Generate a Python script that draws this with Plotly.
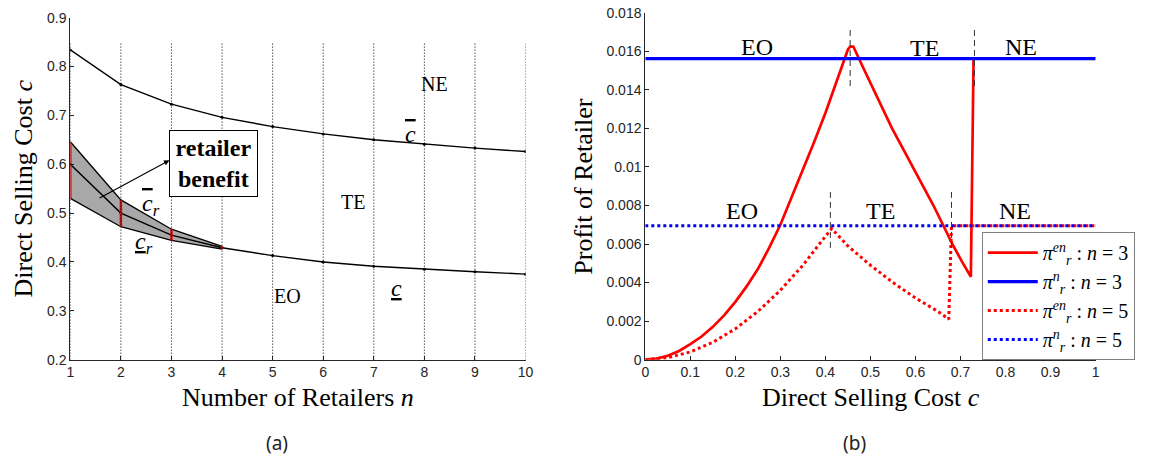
import plotly.graph_objects as go

# ---------------- Panel (a) data ----------------
n_vals = [1, 2, 3, 4, 5, 6, 7, 8, 9, 10]
c_bar = [0.834, 0.763, 0.723, 0.696, 0.677, 0.662, 0.650, 0.641, 0.633, 0.626]       # upper threshold
c_under = [0.600, 0.500, 0.455, 0.429, 0.413, 0.400, 0.391, 0.385, 0.380, 0.375]     # lower threshold
n_band = [1, 2, 3, 4]
cr_bar = [0.646, 0.527, 0.467, 0.432]     # retailer upper bound
cr_under = [0.530, 0.472, 0.444, 0.426]   # retailer lower bound
grid_bottom = 0.2
grid_top = 0.85

# ---------------- Panel (b) data ----------------
c_en3 = [0, 0.025, 0.05, 0.075, 0.1, 0.125, 0.15, 0.175, 0.2, 0.225, 0.25, 0.275, 0.3,
         0.325, 0.35, 0.375, 0.4, 0.425, 0.45, 0.455, 0.462, 0.485, 0.508, 0.528, 0.548,
         0.571, 0.594, 0.617, 0.640, 0.661, 0.682, 0.703, 0.723, 0.729, 1.0]
pi_en3 = [0, 0.00005, 0.0002, 0.00045, 0.0008, 0.0012, 0.0017, 0.0023, 0.003, 0.0038,
          0.0047, 0.0058, 0.007, 0.0084, 0.0098, 0.0113, 0.0128, 0.0145, 0.0161,
          0.01625, 0.01625, 0.0151, 0.0140, 0.0130, 0.0120, 0.0110, 0.0100, 0.0090,
          0.0080, 0.0070, 0.0060, 0.0051, 0.0043, 0.015625, 0.015625]
c_en5 = [0, 0.05, 0.1, 0.15, 0.2, 0.25, 0.3, 0.35, 0.4, 0.414, 0.45, 0.5, 0.55, 0.6,
         0.65, 0.674, 0.680, 1.0]
pi_en5 = [0, 0.0001, 0.0004, 0.0009, 0.0016, 0.0025, 0.0036, 0.0049, 0.0064, 0.0068,
          0.0059, 0.0049, 0.0040, 0.0032, 0.0025, 0.0021, 0.006944, 0.006944]
c_flat = [0, 1.0]
pi_n3 = [0.015625, 0.015625]
pi_n5 = [0.006944, 0.006944]
mark3_c = [0.455, 0.731]
mark3_lo, mark3_hi = 0.0142, 0.0173
mark5_c = [0.411, 0.680]
mark5_lo, mark5_hi = 0.0058, 0.0087

yticks_b = [0, 0.002, 0.004, 0.006, 0.008, 0.01, 0.012, 0.014, 0.016, 0.018]
ytext_b = ["0", "0.002", "0.004", "0.006", "0.008", "0.01", "0.012", "0.014", "0.016", "0.018"]
xticks_b = [0, 0.1, 0.2, 0.3, 0.4, 0.5, 0.6, 0.7, 0.8, 0.9, 1]
xtext_b = ["0", "0.1", "0.2", "0.3", "0.4", "0.5", "0.6", "0.7", "0.8", "0.9", "1"]
yticks_a = [0.2, 0.3, 0.4, 0.5, 0.6, 0.7, 0.8, 0.9]

SERIF = "Liberation Serif"
SANS = "Liberation Sans"
AXC = "#262626"

fig = go.Figure()

# ---- panel (a) ----
fig.add_trace(go.Scatter(x=[n_vals[0], n_vals[0]], y=[grid_bottom, grid_top], mode="lines",
                         line=dict(color="black", width=1, dash="1px,2px"), showlegend=False,
                         xaxis="x", yaxis="y", hoverinfo="skip"))
fig.add_trace(go.Scatter(x=n_band + n_band[::-1], y=cr_bar + cr_under[::-1], fill="toself",
                         fillcolor="#a8a8a8", line=dict(width=0), mode="lines",
                         showlegend=False, xaxis="x", yaxis="y", hoverinfo="skip"))
fig.add_trace(go.Scatter(x=n_band, y=cr_bar, mode="lines", line=dict(color="black", width=1.3),
                         showlegend=False, xaxis="x", yaxis="y"))
fig.add_trace(go.Scatter(x=n_band, y=cr_under, mode="lines", line=dict(color="black", width=1.3),
                         showlegend=False, xaxis="x", yaxis="y"))
fig.add_trace(go.Scatter(x=n_vals, y=c_bar, mode="lines+markers",
                         line=dict(color="black", width=1.4), marker=dict(size=3, color="black"),
                         showlegend=False, xaxis="x", yaxis="y"))
fig.add_trace(go.Scatter(x=n_vals, y=c_under, mode="lines+markers",
                         line=dict(color="black", width=1.4), marker=dict(size=3, color="black"),
                         showlegend=False, xaxis="x", yaxis="y"))
rx, ry = [], []
for n, lo, hi in zip(n_band, cr_under, cr_bar):
    rx += [n, n, None]
    ry += [lo, hi, None]
fig.add_trace(go.Scatter(x=rx, y=ry, mode="lines", line=dict(color="#d01010", width=2.5),
                         showlegend=False, xaxis="x", yaxis="y", hoverinfo="skip"))
gx, gy = [], []
for n in n_vals[1:]:
    gx += [n, n, None]
    gy += [grid_bottom, grid_top, None]
fig.add_trace(go.Scatter(x=gx, y=gy, mode="lines", line=dict(color="black", width=1, dash="1px,2px"),
                         showlegend=False, xaxis="x", yaxis="y", hoverinfo="skip"))

# ---- panel (b) ----
fig.add_trace(go.Scatter(x=c_en3, y=pi_en3, mode="lines", line=dict(color="#ff0000", width=2.7),
                         name="<i>π</i><sup><i>en</i></sup><sub><i>r</i></sub> : <i>n</i> = 3",
                         xaxis="x2", yaxis="y2"))
fig.add_trace(go.Scatter(x=c_flat, y=pi_n3, mode="lines", line=dict(color="#0000ff", width=3.3),
                         name="<i>π</i><sup><i>n</i></sup><sub><i>r</i></sub> : <i>n</i> = 3",
                         xaxis="x2", yaxis="y2"))
fig.add_trace(go.Scatter(x=c_en5, y=pi_en5, mode="lines",
                         line=dict(color="#ff0000", width=3, dash="dot"),
                         name="<i>π</i><sup><i>en</i></sup><sub><i>r</i></sub> : <i>n</i> = 5",
                         xaxis="x2", yaxis="y2"))
fig.add_trace(go.Scatter(x=c_flat, y=pi_n5, mode="lines",
                         line=dict(color="#0000ff", width=3, dash="dot"),
                         name="<i>π</i><sup><i>n</i></sup><sub><i>r</i></sub> : <i>n</i> = 5",
                         xaxis="x2", yaxis="y2"))
dx, dy = [], []
for c in mark3_c:
    dx += [c, c, None]
    dy += [mark3_lo, mark3_hi, None]
for c in mark5_c:
    dx += [c, c, None]
    dy += [mark5_lo, mark5_hi, None]
fig.add_trace(go.Scatter(x=dx, y=dy, mode="lines", line=dict(color="#333333", width=1, dash="6px,4px"),
                         showlegend=False, xaxis="x2", yaxis="y2", hoverinfo="skip"))

axis_common = dict(showline=True, linecolor=AXC, linewidth=1, ticks="inside", ticklen=4,
                   tickcolor=AXC, tickfont=dict(family=SANS, size=14, color=AXC),
                   showgrid=False, zeroline=False, mirror=False)

fig.update_layout(
    width=1159, height=471, margin=dict(l=0, r=0, t=0, b=0),
    paper_bgcolor="white", plot_bgcolor="white",
    xaxis=dict(domain=[67 / 1159, 527 / 1159], range=[1, 10], tickvals=n_vals,
               anchor="y", **axis_common),
    yaxis=dict(domain=[(471 - 364) / 471, (471 - 10) / 471], range=[0.2, 0.9],
               tickvals=yticks_a, ticktext=[f"{v:.1f}" for v in yticks_a],
               anchor="x", **axis_common),
    xaxis2=dict(domain=[648 / 1159, 1103 / 1159], range=[0, 1], tickvals=xticks_b,
                ticktext=xtext_b, anchor="y2", **axis_common),
    yaxis2=dict(domain=[(471 - 364) / 471, (471 - 5) / 471], range=[0, 0.018],
                tickvals=yticks_b, ticktext=ytext_b, anchor="x2", **axis_common),
    legend=dict(x=988 / 1159, y=(471 - 232) / 471, xanchor="left", yanchor="top",
                bgcolor="white", bordercolor="#808080", borderwidth=1, itemwidth=50,
                font=dict(family=SERIF, size=20, color="black")),
    showlegend=True,
)

ann = []
def t(x, y, text, size, xref="x", yref="y", **kw):
    d = dict(x=x, y=y, xref=xref, yref=yref, text=text, showarrow=False,
             xanchor="center", yanchor="middle",
             font=dict(family=SERIF, size=size, color="black"))
    d.update(kw)
    ann.append(d)

# panel (a) labels
t(8.2, 0.765, "NE", 20)
t(6.58, 0.523, "TE", 20)
t(5.3, 0.331, "EO", 20)
t(7.73, 0.662, "<i><span style='text-decoration:overline'>c</span></i>", 24)
t(7.44, 0.346, "<i><span style='text-decoration:underline'>c</span></i>", 24)
t(2.6, 0.517, "<i><span style='text-decoration:overline'>c</span><sub>r</sub></i>", 24)
t(2.45, 0.439, "<i><span style='text-decoration:underline'>c</span><sub>r</sub></i>", 24)
t(3.83, 0.6014, "<b>retailer<br>benefit</b>", 24, bordercolor="black", borderwidth=1,
  bgcolor="white", borderpad=0, width=87, height=65)
ann.append(dict(x=2.96, y=0.608, ax=1.55, ay=0.529, xref="x", yref="y", axref="x", ayref="y",
                text="", showarrow=True, arrowhead=2, arrowsize=1, arrowwidth=1.1,
                arrowcolor="black"))

# panel (b) labels
t(0.248, 0.01625, "EO", 24, xref="x2", yref="y2")
t(0.619, 0.0162, "TE", 24, xref="x2", yref="y2")
t(0.834, 0.01625, "NE", 24, xref="x2", yref="y2")
t(0.215, 0.0077, "EO", 24, xref="x2", yref="y2")
t(0.522, 0.0077, "TE", 24, xref="x2", yref="y2")
t(0.821, 0.0077, "NE", 24, xref="x2", yref="y2")

# axis titles
t(20 / 1159, (471 - 187) / 471, "Direct Selling Cost <i>c</i>", 26, xref="paper", yref="paper",
  textangle=-90)
t(297 / 1159, (471 - 403) / 471, "Number of Retailers <i>n</i>", 26, xref="paper", yref="paper")
t(586 / 1159, (471 - 184) / 471, "Profit of Retailer", 26, xref="paper", yref="paper",
  textangle=-90)
t(876 / 1159, (471 - 403) / 471, "Direct Selling Cost <i>c</i>", 26, xref="paper", yref="paper")

# captions
for cx, lab in [(276, "(a)"), (859, "(b)")]:
    ann.append(dict(x=cx / 1159, y=(471 - 450) / 471, xref="paper", yref="paper", text=lab,
                    xanchor="center", yanchor="middle", showarrow=False,
                    font=dict(family="Noto Sans", size=19, color="#222222")))

fig.update_layout(annotations=ann)
fig.write_html("out.html")
